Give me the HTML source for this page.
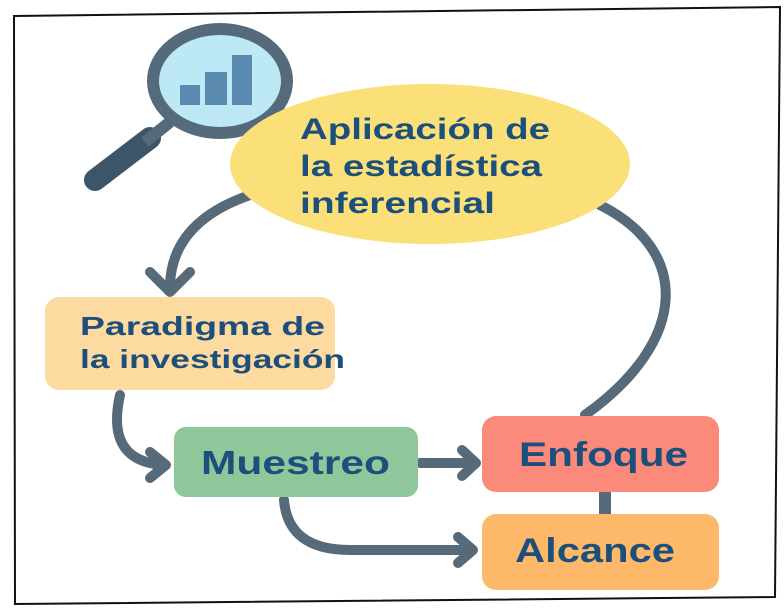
<!DOCTYPE html>
<html><head><style>
html,body{margin:0;padding:0;background:#fff;}
svg{display:block;}
text{font-family:"Liberation Sans",sans-serif;font-weight:bold;fill:#1d4f7c;}
</style></head><body>
<svg width="784" height="610" viewBox="0 0 784 610">
<rect width="784" height="610" fill="#fff"/>
<polygon points="14,16 780,7 775,597 15,604" fill="#fff" stroke="#111" stroke-width="2"/>
<!-- magnifier -->
<line x1="95" y1="180" x2="150" y2="138" stroke="#3d5568" stroke-width="22" stroke-linecap="round"/>
<line x1="145" y1="142" x2="170" y2="122" stroke="#556a7a" stroke-width="12"/>
<ellipse cx="220" cy="81" rx="67" ry="52" fill="#bde9f7" stroke="#556a7a" stroke-width="12"/>
<rect x="180" y="85" width="20" height="20" fill="#5b8ab0"/>
<rect x="205" y="72" width="22" height="33" fill="#5b8ab0"/>
<rect x="232" y="55" width="20" height="50" fill="#5b8ab0"/>
<!-- connectors -->
<g fill="none" stroke="#566a7a" stroke-width="10" stroke-linecap="round" stroke-linejoin="round">
<path d="M250,195 Q172,222 170,285"/>
<path d="M150,272 L170,292 L190,272"/>
<path d="M120,395 Q105,462 165,465"/>
<path d="M150,452 L166,465 L150,478"/>
<path d="M420,463 L475,463"/>
<path d="M462,450 L476,463 L462,476"/>
<path d="M284,500 Q288,550 350,550 L472,550"/>
<path d="M458,537 L473,550 L458,563"/>
<path d="M600,205 C690,250 690,340 585,415"/>
</g>
<rect x="599" y="490" width="12" height="26" fill="#566a7a"/>
<!-- nodes -->
<ellipse cx="430" cy="164" rx="200" ry="80" fill="#fbe07a"/>
<text x="300" y="139" font-size="30" textLength="250" lengthAdjust="spacingAndGlyphs">Aplicación de</text>
<text x="300" y="176" font-size="30" textLength="242" lengthAdjust="spacingAndGlyphs">la estadística</text>
<text x="300" y="213" font-size="30" textLength="195" lengthAdjust="spacingAndGlyphs">inferencial</text>
<rect x="45" y="297" width="290" height="93" rx="14" fill="#fddba0"/>
<text x="80" y="335" font-size="26" textLength="245" lengthAdjust="spacingAndGlyphs">Paradigma de</text>
<text x="80" y="368" font-size="26" textLength="265" lengthAdjust="spacingAndGlyphs">la investigación</text>
<rect x="174" y="427" width="244" height="70" rx="12" fill="#8fc79a"/>
<text x="201" y="474" font-size="33" textLength="189" lengthAdjust="spacingAndGlyphs">Muestreo</text>
<rect x="482" y="416" width="237" height="76" rx="14" fill="#fc8a7a"/>
<text x="519" y="466" font-size="34" textLength="169" lengthAdjust="spacingAndGlyphs">Enfoque</text>
<rect x="482" y="514" width="237" height="76" rx="14" fill="#fdb86a"/>
<text x="515" y="562" font-size="34" textLength="160" lengthAdjust="spacingAndGlyphs">Alcance</text>
</svg>
</body></html>
